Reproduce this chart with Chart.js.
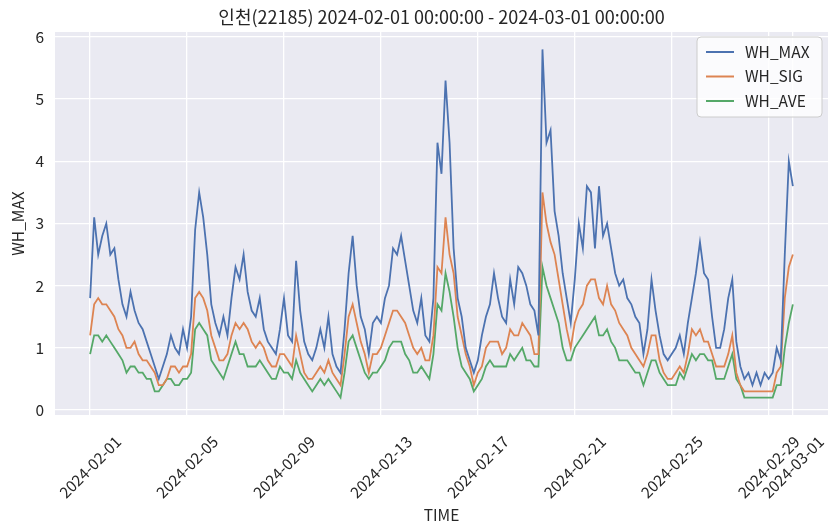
<!DOCTYPE html>
<html>
<head>
<meta charset="utf-8">
<script src="https://cdn.jsdelivr.net/npm/chart.js@4.4.1/dist/chart.umd.min.js"></script>
<style>
  html, body { margin: 0; padding: 0; background: #fff; }
  #wrap { width: 839px; height: 532px; }
</style>
</head>
<body>
<div id="wrap"><canvas id="waveChart"></canvas></div>
<script>
// readings every 4 hours, 2024-02-01 00:00 -> 2024-03-01 00:00 (one row per day)
const hourStep = 4

const whMax = [
  1.8, 3.1, 2.5, 2.8, 3.0, 2.5,
  2.6, 2.1, 1.7, 1.5, 1.9, 1.6,
  1.4, 1.3, 1.1, 0.9, 0.7, 0.5,
  0.7, 0.9, 1.2, 1.0, 0.9, 1.3,
  1.0, 1.5, 2.9, 3.5, 3.1, 2.5,
  1.7, 1.4, 1.2, 1.5, 1.2, 1.8,
  2.3, 2.1, 2.5, 1.9, 1.6, 1.5,
  1.8, 1.3, 1.1, 1.0, 0.9, 1.3,
  1.8, 1.2, 1.1, 2.4, 1.6, 1.1,
  0.9, 0.8, 1.0, 1.3, 1.0, 1.5,
  0.9, 0.7, 0.6, 1.3, 2.2, 2.8,
  2.0, 1.5, 1.3, 0.9, 1.4, 1.5,
  1.4, 1.8, 2.0, 2.6, 2.5, 2.8,
  2.4, 2.0, 1.6, 1.4, 1.8, 1.2,
  1.1, 1.8, 4.3, 3.8, 5.3, 4.3,
  2.6, 1.8, 1.5, 1.0, 0.8, 0.6,
  0.8, 1.2, 1.5, 1.7, 2.2, 1.8,
  1.5, 1.4, 2.1, 1.7, 2.3, 2.2,
  2.0, 1.7, 1.6, 1.2, 5.8, 4.3,
  4.5, 3.2, 2.8, 2.2, 1.8, 1.4,
  2.1, 3.0, 2.6, 3.6, 3.5, 2.6,
  3.6, 2.8, 3.0, 2.6, 2.2, 2.0,
  2.1, 1.8, 1.7, 1.5, 1.4, 0.9,
  1.3, 2.1, 1.6, 1.2, 0.9, 0.8,
  0.9, 1.0, 1.2, 0.9, 1.4, 1.8,
  2.2, 2.7, 2.2, 2.1, 1.5, 1.0,
  1.0, 1.3, 1.8, 2.1, 1.1, 0.7,
  0.5, 0.6, 0.4, 0.6, 0.4, 0.6,
  0.5, 0.6, 1.0, 0.8, 2.5, 4.0,
  3.6
]

const whSig = [
  1.2, 1.7, 1.8, 1.7, 1.7, 1.6,
  1.5, 1.3, 1.2, 1.0, 1.0, 1.1,
  0.9, 0.8, 0.8, 0.7, 0.6, 0.4,
  0.4, 0.5, 0.7, 0.7, 0.6, 0.7,
  0.7, 0.9, 1.8, 1.9, 1.8, 1.6,
  1.2, 1.0, 0.8, 0.8, 0.9, 1.2,
  1.4, 1.3, 1.4, 1.3, 1.1, 1.0,
  1.1, 1.0, 0.8, 0.7, 0.7, 0.9,
  0.9, 0.8, 0.7, 1.2, 0.9, 0.6,
  0.5, 0.5, 0.6, 0.7, 0.6, 0.8,
  0.6, 0.5, 0.4, 0.9, 1.5, 1.7,
  1.4, 1.1, 0.9, 0.6, 0.9, 0.9,
  1.0, 1.2, 1.4, 1.6, 1.6, 1.5,
  1.4, 1.2, 1.0, 0.9, 1.0, 0.8,
  0.8, 1.2, 2.3, 2.2, 3.1, 2.5,
  2.2, 1.5, 1.2, 0.9, 0.7, 0.4,
  0.6, 0.7, 1.0, 1.1, 1.1, 1.1,
  0.9, 1.0, 1.3, 1.2, 1.2, 1.4,
  1.3, 1.2, 0.9, 0.9, 3.5, 3.0,
  2.7, 2.5, 2.1, 1.7, 1.3, 1.0,
  1.4, 1.6, 1.7, 2.0, 2.1, 2.1,
  1.8, 1.7, 2.0, 1.7, 1.6, 1.4,
  1.3, 1.2, 1.0, 0.9, 0.8, 0.7,
  0.9, 1.2, 1.2, 0.8, 0.6, 0.5,
  0.5, 0.6, 0.7, 0.6, 0.9, 1.3,
  1.2, 1.3, 1.1, 1.1, 0.9, 0.7,
  0.7, 0.7, 0.9, 1.2, 0.6, 0.4,
  0.3, 0.3, 0.3, 0.3, 0.3, 0.3,
  0.3, 0.3, 0.6, 0.7, 1.8, 2.3,
  2.5
]

const whAve = [
  0.9, 1.2, 1.2, 1.1, 1.2, 1.1,
  1.0, 0.9, 0.8, 0.6, 0.7, 0.7,
  0.6, 0.6, 0.5, 0.5, 0.3, 0.3,
  0.4, 0.5, 0.5, 0.4, 0.4, 0.5,
  0.5, 0.6, 1.3, 1.4, 1.3, 1.2,
  0.8, 0.7, 0.6, 0.5, 0.7, 0.9,
  1.1, 0.9, 0.9, 0.7, 0.7, 0.7,
  0.8, 0.7, 0.6, 0.5, 0.5, 0.7,
  0.6, 0.6, 0.5, 0.8, 0.6, 0.5,
  0.4, 0.3, 0.4, 0.5, 0.4, 0.5,
  0.4, 0.3, 0.2, 0.6, 1.1, 1.2,
  1.0, 0.8, 0.6, 0.5, 0.6, 0.6,
  0.7, 0.8, 1.0, 1.1, 1.1, 1.1,
  0.9, 0.8, 0.6, 0.6, 0.7, 0.6,
  0.5, 0.9, 1.7, 1.6, 2.2, 1.9,
  1.5, 1.0, 0.7, 0.6, 0.5, 0.3,
  0.4, 0.5, 0.7, 0.8, 0.7, 0.7,
  0.7, 0.7, 0.9, 0.8, 0.9, 1.0,
  0.8, 0.8, 0.7, 0.7, 2.3, 2.0,
  1.8, 1.6, 1.4, 1.0, 0.8, 0.8,
  1.0, 1.1, 1.2, 1.3, 1.4, 1.5,
  1.2, 1.2, 1.3, 1.1, 1.0, 0.8,
  0.8, 0.8, 0.7, 0.6, 0.6, 0.4,
  0.6, 0.8, 0.8, 0.6, 0.5, 0.4,
  0.4, 0.4, 0.6, 0.5, 0.7, 0.9,
  0.8, 0.9, 0.9, 0.8, 0.8, 0.5,
  0.5, 0.5, 0.7, 0.9, 0.5, 0.4,
  0.2, 0.2, 0.2, 0.2, 0.2, 0.2,
  0.2, 0.2, 0.4, 0.4, 1.0, 1.4,
  1.7
]

// hours since 2024-02-01 00:00
const tickHours = [0, 96, 192, 288, 384, 480, 576, 672, 696]
const tickLabels = ['2024-02-01', '2024-02-05', '2024-02-09', '2024-02-13', '2024-02-17',
  '2024-02-21', '2024-02-25', '2024-02-29', '2024-03-01']
const yTicks = [0, 1, 2, 3, 4, 5, 6]
const titleText = '인천(22185) 2024-02-01 00:00:00 - 2024-03-01 00:00:00'

const fontFamily = "'Noto Sans CJK KR', 'Noto Sans', sans-serif"
const textColor = '#262626'

const toPoints = (arr) => arr.map((v, i) => ({ x: i * hourStep, y: v }))

const plotBg = {
  id: 'plotBg',
  beforeDraw(chart) {
    const { ctx, chartArea: a } = chart
    ctx.save()
    ctx.fillStyle = '#eaeaf2'
    ctx.fillRect(a.left, a.top, a.right - a.left, a.bottom - a.top)
    ctx.restore()
  }
}

// title centred over the plot area, like matplotlib's ax.set_title
const plotTitle = {
  id: 'plotTitle',
  afterDraw(chart) {
    const { ctx, chartArea: a } = chart
    ctx.save()
    ctx.font = '18px ' + fontFamily
    ctx.fillStyle = textColor
    ctx.textAlign = 'center'
    ctx.textBaseline = 'middle'
    ctx.fillText(titleText, (a.left + a.right) / 2, a.top - 15)
    ctx.restore()
  }
}

// matplotlib style rotated labels, centred under the tick
const rotatedTicks = {
  id: 'rotatedTicks',
  afterDraw(chart) {
    const { ctx, chartArea } = chart
    const xs = chart.scales.x
    ctx.save()
    ctx.font = '15.5px ' + fontFamily
    ctx.fillStyle = textColor
    ctx.textAlign = 'center'
    ctx.textBaseline = 'middle'
    tickHours.forEach((h, i) => {
      const px = xs.getPixelForValue(h)
      ctx.save()
      ctx.translate(px, chartArea.bottom + 52)
      ctx.rotate(-Math.PI / 4)
      ctx.fillText(tickLabels[i], 0, 0)
      ctx.restore()
    })
    ctx.restore()
  }
}

const boxLegend = {
  id: 'boxLegend',
  afterDatasetsDraw(chart) {
    const { ctx, chartArea } = chart
    const w = 125, h = 80
    const x = chartArea.right - 6 - w
    const y = chartArea.top + 5
    ctx.save()
    ctx.beginPath()
    ctx.roundRect(x, y, w, h, 4)
    ctx.fillStyle = 'rgba(255,255,255,0.8)'
    ctx.fill()
    ctx.strokeStyle = '#cccccc'
    ctx.lineWidth = 1
    ctx.stroke()
    ctx.font = '15.5px ' + fontFamily
    ctx.textBaseline = 'middle'
    chart.data.datasets.forEach((ds, i) => {
      const ly = y + 15 + i * 24.5
      ctx.beginPath()
      ctx.moveTo(x + 9, ly)
      ctx.lineTo(x + 37, ly)
      ctx.strokeStyle = ds.borderColor
      ctx.lineWidth = 2
      ctx.stroke()
      ctx.fillStyle = textColor
      ctx.fillText(ds.label, x + 48, ly)
    })
    ctx.restore()
  }
}

const lineStyle = { borderWidth: 1.8, pointRadius: 0, tension: 0 }

const data = {
  datasets: [
    { label: 'WH_MAX', data: toPoints(whMax), borderColor: '#4c72b0', ...lineStyle },
    { label: 'WH_SIG', data: toPoints(whSig), borderColor: '#dd8452', ...lineStyle },
    { label: 'WH_AVE', data: toPoints(whAve), borderColor: '#55a868', ...lineStyle },
  ],
}

const config = {
  type: 'line',
  data: data,
  options: {
    responsive: true,
    maintainAspectRatio: false,
    animation: false,
    layout: { padding: { left: 0, right: 11, top: 32, bottom: 8 } },
    plugins: {
      legend: { display: false },
      tooltip: { enabled: false },
      title: { display: false },
    },
    scales: {
      x: {
        type: 'linear',
        min: -34.8,
        max: 730.8,
        afterBuildTicks: (s) => { s.ticks = tickHours.map((v) => ({ value: v })) },
        afterFit: (s) => { s.height = 109 },
        ticks: { display: false },
        grid: { color: '#ffffff', lineWidth: 1.3, drawTicks: false },
        border: { display: false },
        title: {
          display: true,
          text: 'TIME',
          color: textColor,
          font: { family: fontFamily, size: 15.5 },
          padding: { top: 0, bottom: 0 },
        },
      },
      y: {
        min: -0.08,
        max: 6.08,
        afterBuildTicks: (s) => { s.ticks = yTicks.map((v) => ({ value: v })) },
        afterFit: (s) => { s.width = 55 },
        ticks: { color: textColor, font: { family: fontFamily, size: 15.5 }, padding: 11 },
        grid: { color: '#ffffff', lineWidth: 1.3, drawTicks: false },
        border: { display: false },
        title: {
          display: true,
          text: 'WH_MAX',
          color: textColor,
          font: { family: fontFamily, size: 15.5 },
          padding: { top: 9, bottom: 0 },
        },
      },
    },
  },
  plugins: [plotBg, plotTitle, rotatedTicks, boxLegend],
}

const canvas = document.getElementById('waveChart')
const chart = new Chart(canvas, config)
</script>
</body>
</html>
